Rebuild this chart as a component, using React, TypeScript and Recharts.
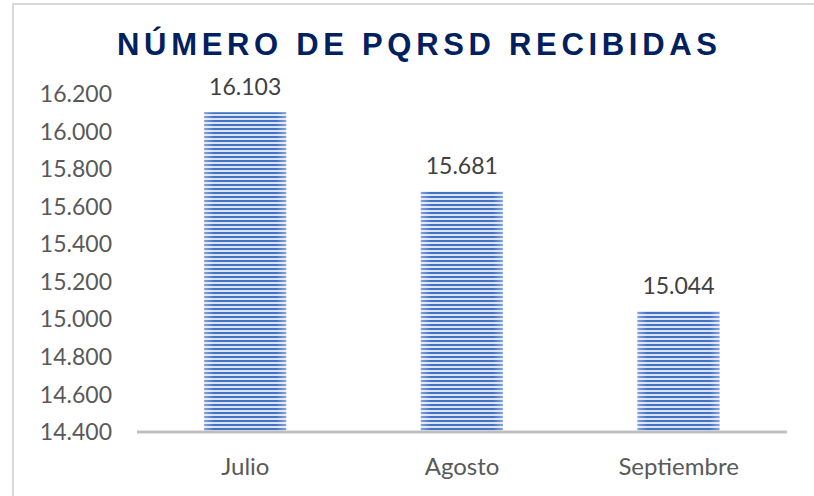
import React from "react";
import {Bar, BarChart, LabelList, XAxis, YAxis} from "recharts";

const months = ["Julio", "Agosto", "Septiembre"];
const pqrsd = [16103, 15681, 15044];
const yTicks = [14400, 14600, 14800, 15000, 15200, 15400, 15600, 15800, 16000, 16200];

const data = months.map((m, i) => ({month: m, value: pqrsd[i]}));

const fmt = (v: number) => String(v).replace(/\B(?=(\d{3})+(?!\d))/g, ".");

const font = "Lato, 'Open Sans', sans-serif";

function StripedBar(props: any) {
    const {x, y, width, height} = props;
    if (!height || height <= 0) return null;
    return (
        <g>
            <rect x={x} y={y} width={width} height={height} fill="url(#stripes)" />
            <rect x={x} y={y} width={width} height={height} fill="url(#edgeGlow)" />
        </g>
    );
}

function App() {
    return (
        <div style={{position: "absolute", left: 0, top: 0, width: 814, height: 496, background: "#fff"}}>
            <div style={{position: "absolute", left: 12, top: 3, right: 0, bottom: 0, borderTop: "2px solid #d9d9d9", borderLeft: "2px solid #d9d9d9"}} />
            <svg width={814} height={80} style={{position: "absolute", left: 0, top: 0}}>
                <text x={117} y={55} textLength={600} lengthAdjust="spacing"
                      fill="#002060" fontFamily="'Liberation Sans', Arial, sans-serif" fontWeight="bold" fontSize={31}>
                    NÚMERO DE PQRSD RECIBIDAS
                </text>
            </svg>
            <BarChart width={814} height={496} data={data} margin={{top: 94, right: 27, left: 0, bottom: 0}}
                      barCategoryGap="31%" style={{position: "absolute", left: 0, top: 0}}>
                <defs>
                    <pattern id="stripes" patternUnits="userSpaceOnUse" width={4} height={4}>
                        <rect x={0} y={0} width={4} height={4} fill="#dbe4f4" />
                        <rect x={0} y={0} width={4} height={2} fill="#4472c4" />
                    </pattern>
                    <linearGradient id="edgeGlow" x1="0" y1="0" x2="1" y2="0">
                        <stop offset="0%" stopColor="#ffffff" stopOpacity={0.35} />
                        <stop offset="12%" stopColor="#ffffff" stopOpacity={0} />
                        <stop offset="88%" stopColor="#ffffff" stopOpacity={0} />
                        <stop offset="100%" stopColor="#ffffff" stopOpacity={0.35} />
                    </linearGradient>
                </defs>
                <XAxis dataKey="month" height={64} tickLine={false} tickMargin={20}
                       axisLine={{stroke: "#bfbfbf", strokeWidth: 3}}
                       tick={{fill: "#595959", fontSize: 24, fontFamily: font}} />
                <YAxis width={137} domain={[14400, 16200]} ticks={yTicks} tickFormatter={fmt}
                       axisLine={false} tickLine={false} tickMargin={19} interval={0}
                       tick={{fill: "#595959", fontSize: 23, fontFamily: font}} />
                <Bar dataKey="value" shape={StripedBar} isAnimationActive={false}>
                    <LabelList dataKey="value" position="top" offset={17} formatter={(v: any) => fmt(Number(v))}
                               style={{fill: "#404040", fontSize: 23, fontFamily: font}} />
                </Bar>
            </BarChart>
        </div>
    );
}

export default App;
